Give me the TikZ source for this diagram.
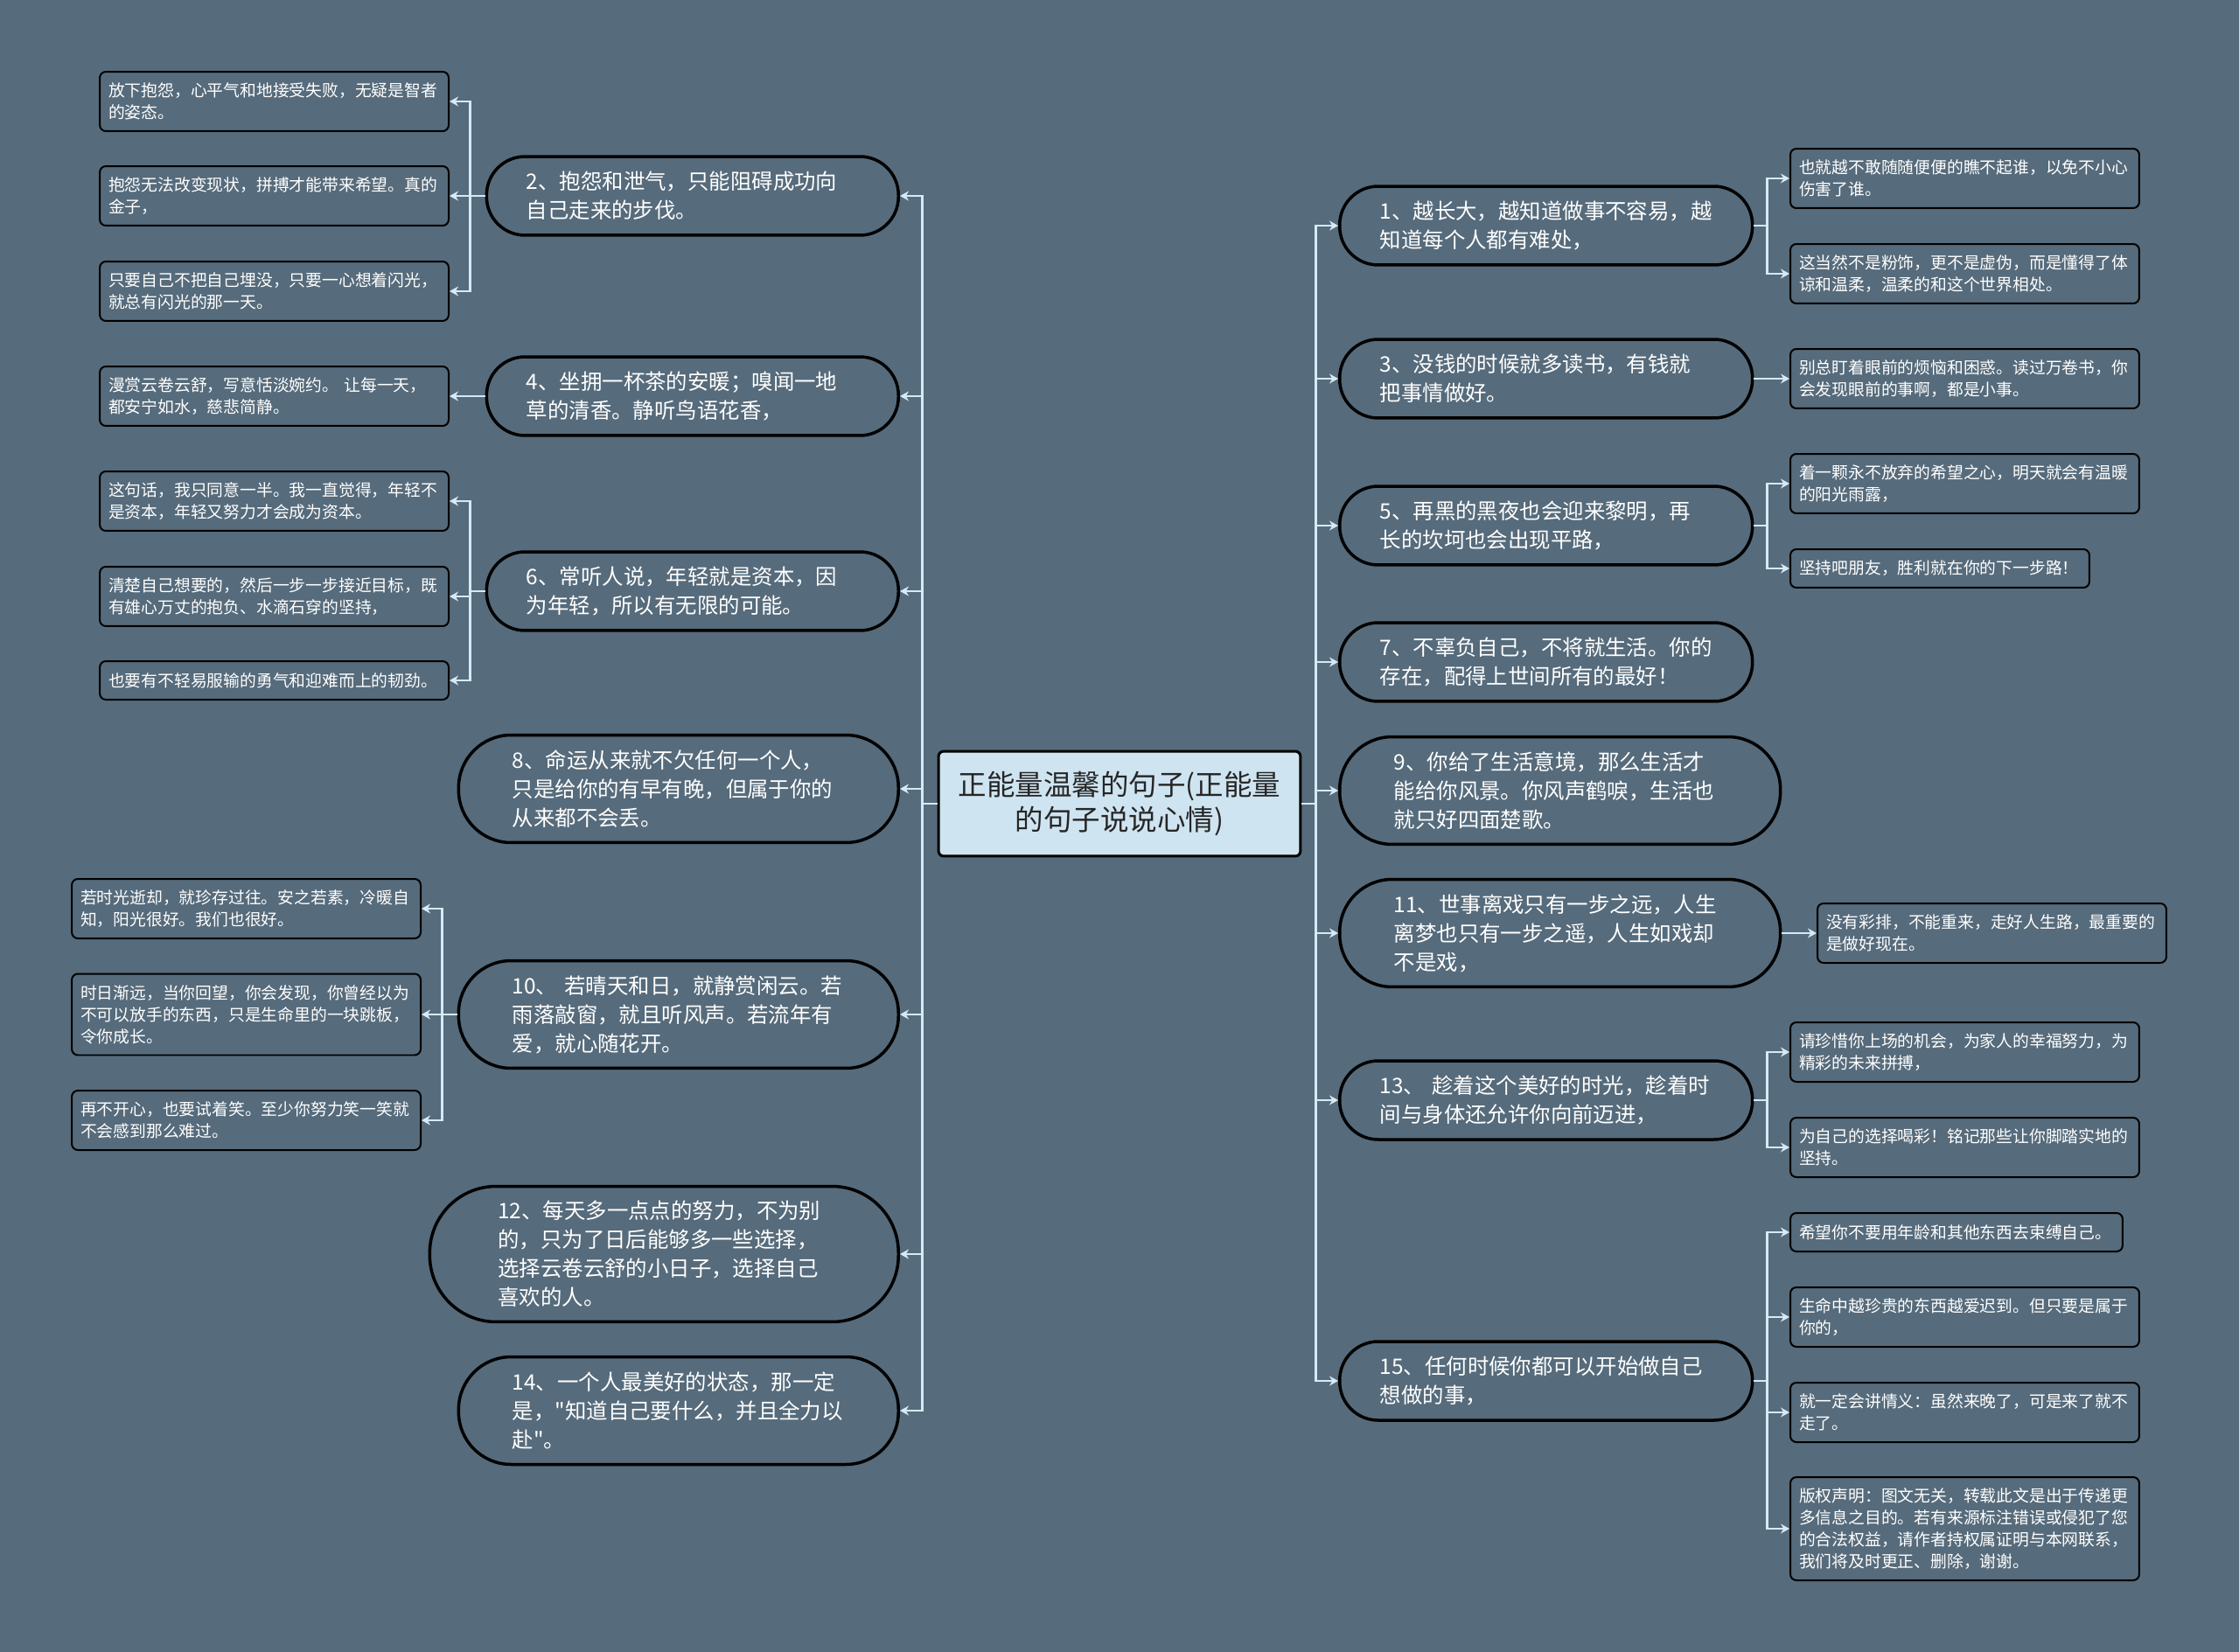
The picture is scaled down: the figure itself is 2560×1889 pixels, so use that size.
\documentclass[tikz,border=0pt]{standalone}
\usepackage{fontspec}
\setmainfont{Noto Sans CJK SC}
\newfontfamily\cjk{Noto Sans CJK SC}
\usepackage{tikz}
\usetikzlibrary{arrows.meta}

\definecolor{bgcol}{RGB}{86,107,123}
\definecolor{linecol}{RGB}{214,234,246}
\definecolor{rootfill}{RGB}{207,228,241}

\newcommand{\rootfont}{\cjk\fontsize{18.5}{22.8}\selectfont}
\newcommand{\topicfont}{\cjk\fontsize{13.9}{18.8}\selectfont}
\newcommand{\leaffont}{\cjk\fontsize{10.7}{14.2}\selectfont}

\begin{document}
\begin{tikzpicture}[x=0.02cm, y=-0.02cm,
    root/.style={draw=black, line width=0.06cm, fill=rootfill, rounded corners=0.12cm,
      text=black!85, font=\rootfont, align=center, minimum width=8.28cm, minimum height=2.4cm},
    topic/.style={draw=black, line width=0.07cm, fill=bgcol, text=white, font=\topicfont,
      text width=7.6cm, align=left, inner xsep=0pt, minimum height=1.8cm, rounded corners=0.88cm},
    topic3/.style={topic, minimum height=2.46cm, rounded corners=1.2cm},
    topic4/.style={topic, minimum height=3.1cm, rounded corners=1.52cm},
    leaf/.style={draw=black, line width=0.04cm, fill=bgcol, text=white, font=\leaffont,
      text width=7.58cm, align=left, inner xsep=0.2cm, minimum height=1.36cm, rounded corners=0.14cm},
    leaf1/.style={leaf, minimum height=0.88cm},
    link/.style={draw=linecol, line width=0.05cm, -{Stealth[length=0.2cm, width=0.22cm]}}]

  % background
  \fill[bgcol] (0,0) rectangle (2560,1889);

  % centre
  \node[root] (root) at (1280,919) {正能量温馨的句子(正能量\\的句子说说心情)};

  % left topics
  \node[topic, anchor=east, minimum width=9.42cm] (t2) at (1029,224) {2、抱怨和泄气，只能阻碍成功向\\自己走来的步伐。};
  \node[topic, anchor=east, minimum width=9.42cm] (t4) at (1029,453) {4、坐拥一杯茶的安暖；嗅闻一地\\草的清香。静听鸟语花香，};
  \node[topic, anchor=east, minimum width=9.42cm] (t6) at (1029,676) {6、常听人说，年轻就是资本，因\\为年轻，所以有无限的可能。};
  \node[topic3, anchor=east, minimum width=10.06cm] (t8) at (1029,902) {8、命运从来就不欠任何一个人，\\只是给你的有早有晚，但属于你的\\从来都不会丢。};
  \node[topic3, anchor=east, minimum width=10.06cm] (t10) at (1029,1160) {10、 若晴天和日，就静赏闲云。若\\雨落敲窗，就且听风声。若流年有\\爱，就心随花开。};
  \node[topic4, anchor=east, minimum width=10.72cm] (t12) at (1029,1434) {12、每天多一点点的努力，不为别\\的，只为了日后能够多一些选择，\\选择云卷云舒的小日子，选择自己\\喜欢的人。};
  \node[topic3, anchor=east, minimum width=10.06cm] (t14) at (1029,1613) {14、一个人最美好的状态，那一定\\是，"知道自己要什么，并且全力以\\赴"。};

  % right topics
  \node[topic, anchor=west, minimum width=9.44cm] (t1) at (1530,258) {1、越长大，越知道做事不容易，越\\知道每个人都有难处，};
  \node[topic, anchor=west, minimum width=9.44cm] (t3) at (1530,433) {3、没钱的时候就多读书，有钱就\\把事情做好。};
  \node[topic, anchor=west, minimum width=9.44cm] (t5) at (1530,601) {5、再黑的黑夜也会迎来黎明，再\\长的坎坷也会出现平路，};
  \node[topic, anchor=west, minimum width=9.44cm] (t7) at (1530,757) {7、不辜负自己，不将就生活。你的\\存在，配得上世间所有的最好！};
  \node[topic3, anchor=west, minimum width=10.08cm] (t9) at (1530,904) {9、你给了生活意境，那么生活才\\能给你风景。你风声鹤唳，生活也\\就只好四面楚歌。};
  \node[topic3, anchor=west, minimum width=10.08cm] (t11) at (1530,1067) {11、世事离戏只有一步之远，人生\\离梦也只有一步之遥，人生如戏却\\不是戏，};
  \node[topic, anchor=west, minimum width=9.44cm] (t13) at (1530,1258) {13、 趁着这个美好的时光，趁着时\\间与身体还允许你向前迈进，};
  \node[topic, anchor=west, minimum width=9.44cm] (t15) at (1530,1579) {15、任何时候你都可以开始做自己\\想做的事，};

  % left leaves
  \node[leaf, anchor=east] (l2a) at (514,116) {放下抱怨，心平气和地接受失败，无疑是智者\\的姿态。};
  \node[leaf, anchor=east] (l2b) at (514,224) {抱怨无法改变现状，拼搏才能带来希望。真的\\金子，};
  \node[leaf, anchor=east] (l2c) at (514,333) {只要自己不把自己埋没，只要一心想着闪光，\\就总有闪光的那一天。};
  \node[leaf, anchor=east] (l4a) at (514,453) {漫赏云卷云舒，写意恬淡婉约。 让每一天，\\都安宁如水，慈悲简静。};
  \node[leaf, anchor=east] (l6a) at (514,573) {这句话，我只同意一半。我一直觉得，年轻不\\是资本，年轻又努力才会成为资本。};
  \node[leaf, anchor=east] (l6b) at (514,682) {清楚自己想要的，然后一步一步接近目标，既\\有雄心万丈的抱负、水滴石穿的坚持，};
  \node[leaf1, anchor=east] (l6c) at (514,778) {也要有不轻易服输的勇气和迎难而上的韧劲。};
  \node[leaf, anchor=east] (l10a) at (482,1039) {若时光逝却，就珍存过往。安之若素，冷暖自\\知，阳光很好。我们也很好。};
  \node[leaf, anchor=east, minimum height=1.86cm] (l10b) at (482,1160) {时日渐远，当你回望，你会发现，你曾经以为\\不可以放手的东西，只是生命里的一块跳板，\\令你成长。};
  \node[leaf, anchor=east] (l10c) at (482,1281) {再不开心，也要试着笑。至少你努力笑一笑就\\不会感到那么难过。};

  % right leaves
  \node[leaf, anchor=west] (r1a) at (2046,204) {也就越不敢随随便便的瞧不起谁，以免不小心\\伤害了谁。};
  \node[leaf, anchor=west] (r1b) at (2046,313) {这当然不是粉饰，更不是虚伪，而是懂得了体\\谅和温柔，温柔的和这个世界相处。};
  \node[leaf, anchor=west] (r3a) at (2046,433) {别总盯着眼前的烦恼和困惑。读过万卷书，你\\会发现眼前的事啊，都是小事。};
  \node[leaf, anchor=west] (r5a) at (2046,553) {着一颗永不放弃的希望之心，明天就会有温暖\\的阳光雨露，};
  \node[leaf1, anchor=west, text width=6.44cm] (r5b) at (2046,650) {坚持吧朋友，胜利就在你的下一步路！};
  \node[leaf, anchor=west] (r11a) at (2077,1067) {没有彩排，不能重来，走好人生路，最重要的\\是做好现在。};
  \node[leaf, anchor=west] (r13a) at (2046,1203) {请珍惜你上场的机会，为家人的幸福努力，为\\精彩的未来拼搏，};
  \node[leaf, anchor=west] (r13b) at (2046,1312) {为自己的选择喝彩！铭记那些让你脚踏实地的\\坚持。};
  \node[leaf1, anchor=west, text width=7.2cm] (r15a) at (2046,1409) {希望你不要用年龄和其他东西去束缚自己。};
  \node[leaf, anchor=west] (r15b) at (2046,1506) {生命中越珍贵的东西越爱迟到。但只要是属于\\你的，};
  \node[leaf, anchor=west] (r15c) at (2046,1615) {就一定会讲情义：虽然来晚了，可是来了就不\\走了。};
  \node[leaf, anchor=west, minimum height=2.36cm] (r15d) at (2046,1748) {版权声明：图文无关，转载此文是出于传递更\\多信息之目的。若有来源标注错误或侵犯了您\\的合法权益，请作者持权属证明与本网联系，\\我们将及时更正、删除，谢谢。};

  % centre to topics
  \foreach \t in {t2,t4,t6,t8,t10,t12,t14}
    \draw[link] (root.west) -- ++(-17,0) |- (\t.east);
  \foreach \t in {t1,t3,t5,t7,t9,t11,t13,t15}
    \draw[link] (root.east) -- ++(16,0) |- (\t.west);

  % topics to leaves
  \foreach \l in {l2a,l2b,l2c}
    \draw[link] (t2.west) -- ++(-17,0) |- (\l.east);
  \draw[link] (t4.west) -- (l4a.east);
  \foreach \l in {l6a,l6b,l6c}
    \draw[link] (t6.west) -- ++(-17,0) |- (\l.east);
  \foreach \l in {l10a,l10b,l10c}
    \draw[link] (t10.west) -- ++(-17,0) |- (\l.east);
  \foreach \l in {r1a,r1b}
    \draw[link] (t1.east) -- ++(15,0) |- (\l.west);
  \draw[link] (t3.east) -- (r3a.west);
  \foreach \l in {r5a,r5b}
    \draw[link] (t5.east) -- ++(15,0) |- (\l.west);
  \draw[link] (t11.east) -- (r11a.west);
  \foreach \l in {r13a,r13b}
    \draw[link] (t13.east) -- ++(15,0) |- (\l.west);
  \foreach \l in {r15a,r15b,r15c,r15d}
    \draw[link] (t15.east) -- ++(15,0) |- (\l.west);
\end{tikzpicture}
\end{document}
